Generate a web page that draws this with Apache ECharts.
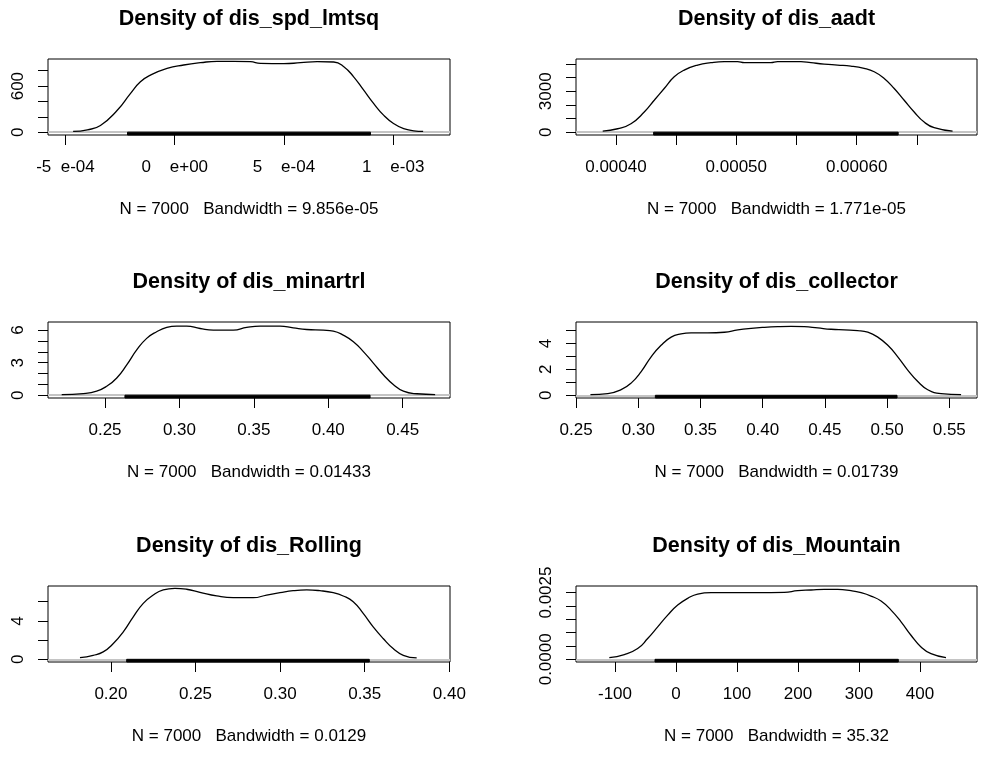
<!DOCTYPE html>
<html>
<head>
<meta charset="utf-8">
<script src="https://cdn.jsdelivr.net/npm/echarts@6/dist/echarts.min.js"></script>
<style>
  html, body { margin: 0; padding: 0; background: #fff; }
  #chart { width: 982px; height: 761px; }
</style>
</head>
<body>
<div id="chart"></div>
<script>
// ---- Kernel density estimates (x grid, density) ----
const spdX = [-4.65e-4, -4.0e-4, -3.40e-4, -2.63e-4, -2.03e-4, -1.57e-4, -1.11e-4, -0.35e-4, 0.41e-4, 1.18e-4, 1.94e-4, 2.70e-4, 3.47e-4, 3.92e-4, 5.0e-4, 5.76e-4, 6.52e-4, 7.28e-4, 7.74e-4, 8.19e-4, 8.65e-4, 9.11e-4, 9.57e-4, 10.03e-4, 10.48e-4, 10.94e-4, 11.37e-4];
const spdY = [10, 31, 88, 285, 503, 656, 744, 831, 875, 905, 923, 923, 918, 897, 892, 905, 918, 914, 853, 721, 547, 372, 219, 110, 45, 18, 10];

const aadtX = [0.000389, 0.0004014, 0.0004125, 0.0004235, 0.0004318, 0.0004401, 0.0004484, 0.0004567, 0.0004679, 0.0004789, 0.0004900, 0.0005011, 0.0005066, 0.0005287, 0.0005343, 0.0005537, 0.0005620, 0.0005730, 0.0005841, 0.0005952, 0.0006062, 0.0006146, 0.0006229, 0.0006312, 0.0006395, 0.0006478, 0.0006561, 0.0006644, 0.0006797];
const aadtY = [74, 251, 620, 1476, 2339, 3203, 4059, 4554, 4923, 5092, 5166, 5166, 5092, 5092, 5166, 5166, 5092, 4996, 4923, 4849, 4679, 4428, 3941, 3203, 2339, 1476, 738, 325, 74];

const minartrlX = [0.2209, 0.2354, 0.2444, 0.2511, 0.2579, 0.2646, 0.2713, 0.2780, 0.2847, 0.2915, 0.2982, 0.3049, 0.3139, 0.3228, 0.3362, 0.3452, 0.3542, 0.3676, 0.3765, 0.3855, 0.3967, 0.4034, 0.4101, 0.4169, 0.4236, 0.4303, 0.4370, 0.4437, 0.4505, 0.4595, 0.4718];
const minartrlY = [0.06, 0.15, 0.37, 0.82, 1.59, 2.80, 4.17, 5.24, 5.85, 6.25, 6.37, 6.37, 6.15, 6.0, 6.0, 6.25, 6.37, 6.37, 6.21, 6.06, 6.0, 5.91, 5.54, 4.93, 4.02, 2.96, 1.89, 0.98, 0.37, 0.13, 0.06];

const collectorX = [0.2615, 0.2755, 0.2862, 0.2942, 0.3023, 0.3103, 0.3183, 0.3264, 0.3344, 0.3424, 0.3558, 0.3692, 0.3800, 0.3907, 0.4014, 0.4121, 0.4228, 0.4335, 0.4443, 0.4550, 0.4657, 0.4764, 0.4845, 0.4925, 0.5006, 0.5086, 0.5166, 0.5247, 0.5327, 0.5434, 0.5595];
const collectorY = [0.05, 0.13, 0.43, 0.94, 1.83, 2.97, 3.86, 4.49, 4.74, 4.82, 4.82, 4.87, 5.05, 5.17, 5.25, 5.30, 5.32, 5.30, 5.20, 5.10, 5.05, 5.0, 4.87, 4.49, 3.86, 2.97, 1.95, 1.06, 0.43, 0.13, 0.05];

const rollingX = [0.1817, 0.1895, 0.1954, 0.2014, 0.2073, 0.2132, 0.2191, 0.2250, 0.2309, 0.2378, 0.2447, 0.2526, 0.2625, 0.2723, 0.2841, 0.2920, 0.2999, 0.3077, 0.3157, 0.3235, 0.3314, 0.3373, 0.3432, 0.3491, 0.3550, 0.3609, 0.3668, 0.3728, 0.3807];
const rollingY = [0.17, 0.42, 0.77, 1.64, 2.86, 4.43, 5.83, 6.70, 7.23, 7.40, 7.30, 6.98, 6.60, 6.42, 6.42, 6.70, 6.94, 7.15, 7.23, 7.15, 6.94, 6.60, 6.0, 4.78, 3.38, 2.17, 1.12, 0.42, 0.14];

const mountainX = [-109.3, -84.7, -62.8, -46.4, -30.0, -13.6, 2.8, 19.2, 35.6, 57.4, 79.2, 133.9, 177.5, 199.5, 221.3, 243.1, 265.1, 286.9, 303.3, 319.7, 336.1, 352.5, 368.9, 385.2, 401.6, 418.0, 442.6];
const mountainY = [0.000063, 0.000177, 0.000402, 0.000778, 0.001214, 0.001654, 0.002030, 0.002281, 0.002444, 0.002494, 0.002494, 0.002494, 0.002506, 0.002569, 0.002594, 0.002619, 0.002619, 0.002569, 0.002494, 0.002368, 0.002180, 0.001842, 0.001404, 0.000902, 0.000464, 0.000213, 0.000063];

// ---- Observed data range (rug) per variable ----
const spdRug = [-2.16e-4, 8.96e-4];
const aadtRug = [0.0004313, 0.0006345];
const minartrlRug = [0.2634, 0.4281];
const collectorRug = [0.3137, 0.508];
const rollingRug = [0.2093, 0.3527];
const mountainRug = [-34.4, 364.4];

// ---- Titles and subtitles ----
const titles = ['Density of dis_spd_lmtsq', 'Density of dis_aadt', 'Density of dis_minartrl',
                'Density of dis_collector', 'Density of dis_Rolling', 'Density of dis_Mountain'];
const subtitles = ['N = 7000   Bandwidth = 9.856e-05', 'N = 7000   Bandwidth = 1.771e-05',
                   'N = 7000   Bandwidth = 0.01433', 'N = 7000   Bandwidth = 0.01739',
                   'N = 7000   Bandwidth = 0.0129', 'N = 7000   Bandwidth = 35.32'];

// ---- Axis limits, ticks and tick labels ----
const xLimits = [[-5.80e-4, 12.6e-4], [0.0003668, 0.0007], [0.2117, 0.4818],
                 [0.2499, 0.5723], [0.1628, 0.4004], [-163.9, 493.4]];
const yLimits = [[-36.7, 953], [-207, 5365], [-0.26, 6.75],
                 [-0.21, 5.66], [-0.28, 7.64], [-0.0001, 0.002744]];

const xTicks = [
  [-5e-4, 0, 5e-4, 1e-3],
  [0.0004, 0.00045, 0.0005, 0.00055, 0.0006, 0.00065],
  [0.25, 0.30, 0.35, 0.40, 0.45],
  [0.25, 0.30, 0.35, 0.40, 0.45, 0.50, 0.55],
  [0.20, 0.25, 0.30, 0.35, 0.40],
  [-100, 0, 100, 200, 300, 400]
];
const xLabelValues = [
  [-5e-4, 0, 5e-4, 1e-3],
  [0.0004, 0.0005, 0.0006],
  [0.25, 0.30, 0.35, 0.40, 0.45],
  [0.25, 0.30, 0.35, 0.40, 0.45, 0.50, 0.55],
  [0.20, 0.25, 0.30, 0.35, 0.40],
  [-100, 0, 100, 200, 300, 400]
];
const xLabelTexts = [
  ['-5  e-04', '0    e+00', '5    e-04', '1    e-03'],
  ['0.00040', '0.00050', '0.00060'],
  ['0.25', '0.30', '0.35', '0.40', '0.45'],
  ['0.25', '0.30', '0.35', '0.40', '0.45', '0.50', '0.55'],
  ['0.20', '0.25', '0.30', '0.35', '0.40'],
  ['-100', '0', '100', '200', '300', '400']
];
const yTicks = [
  [0, 200, 400, 600, 800],
  [0, 1000, 2000, 3000, 4000, 5000],
  [0, 1, 2, 3, 4, 5, 6],
  [0, 1, 2, 3, 4, 5],
  [0, 2, 4, 6],
  [0, 0.0005, 0.001, 0.0015, 0.002, 0.0025]
];
const yLabelValues = [[0, 600], [0, 3000], [0, 3, 6], [0, 2, 4], [0, 4], [0, 0.0025]];
const yLabelTexts = [['0', '600'], ['0', '3000'], ['0', '3', '6'], ['0', '2', '4'], ['0', '4'], ['0.0000', '0.0025']];

const curvesX = [spdX, aadtX, minartrlX, collectorX, rollingX, mountainX];
const curvesY = [spdY, aadtY, minartrlY, collectorY, rollingY, mountainY];
const rugs = [spdRug, aadtRug, minartrlRug, collectorRug, rollingRug, mountainRug];

// ---- Plot-region layout (2 columns x 3 rows) ----
const boxes = [
  { left: 48,  top: 59,  width: 402, height: 76 },
  { left: 576, top: 59,  width: 401, height: 76 },
  { left: 48,  top: 322, width: 402, height: 76 },
  { left: 576, top: 322, width: 401, height: 76 },
  { left: 48,  top: 586, width: 402, height: 76 },
  { left: 576, top: 586, width: 401, height: 76 }
];

const FONT = 'Liberation Sans';

function labeler(values, texts) {
  return function (v) {
    let k = 0, best = Infinity;
    values.forEach(function (t, j) {
      const d = Math.abs(t - v);
      if (d < best) { best = d; k = j; }
    });
    return texts[k];
  };
}

const option = {
  animation: false,
  backgroundColor: '#ffffff',
  title: [], grid: [], xAxis: [], yAxis: [], series: []
};

boxes.forEach(function (b, i) {
  const cx = b.left + b.width / 2;
  option.title.push({
    text: titles[i], left: cx, top: b.top - 51, textAlign: 'center', padding: 0,
    textStyle: { fontFamily: FONT, fontSize: 21.5, fontWeight: 'bold', color: '#000' }
  });
  option.title.push({
    text: subtitles[i], left: cx, top: b.top + b.height + 66, textAlign: 'center', padding: 0,
    textStyle: { fontFamily: FONT, fontSize: 17, fontWeight: 'normal', color: '#000' }
  });
  option.grid.push({
    left: b.left, top: b.top, width: b.width, height: b.height,
    show: true, borderColor: '#000', borderWidth: 1, backgroundColor: 'transparent'
  });
  option.xAxis.push({
    type: 'value', gridIndex: i, min: xLimits[i][0], max: xLimits[i][1], position: 'bottom',
    axisLine: { show: false, onZero: false }, splitLine: { show: false },
    axisTick: { show: true, length: 10, customValues: xTicks[i], lineStyle: { color: '#000', width: 1 } },
    axisLabel: {
      show: true, customValues: xLabelValues[i], margin: 24,
      formatter: labeler(xLabelValues[i], xLabelTexts[i]),
      fontFamily: FONT, fontSize: 17, color: '#000'
    }
  });
  option.yAxis.push({
    type: 'value', gridIndex: i, min: yLimits[i][0], max: yLimits[i][1], position: 'left',
    axisLine: { show: false, onZero: false }, splitLine: { show: false },
    axisTick: { show: true, length: 10, customValues: yTicks[i], lineStyle: { color: '#000', width: 1 } },
    axisLabel: {
      show: true, customValues: yLabelValues[i], rotate: 90, margin: 21,
      formatter: labeler(yLabelValues[i], yLabelTexts[i]),
      fontFamily: FONT, fontSize: 17, color: '#000'
    }
  });
  const pts = curvesX[i].map(function (x, j) { return [x, curvesY[i][j]]; });
  // density curve
  option.series.push({
    type: 'line', xAxisIndex: i, yAxisIndex: i, data: pts,
    smooth: true, showSymbol: false, symbol: 'none',
    lineStyle: { color: '#000', width: 1.3 }, z: 3, silent: true
  });
  // grey zero reference line
  option.series.push({
    type: 'line', xAxisIndex: i, yAxisIndex: i, data: [], z: 2, silent: true,
    markLine: {
      silent: true, symbol: 'none', label: { show: false }, z: 2,
      lineStyle: { color: '#c4c4c4', width: 2, type: 'solid' },
      data: [{ yAxis: 0 }]
    }
  });
  // rug of observed values along the baseline
  option.series.push({
    type: 'line', xAxisIndex: i, yAxisIndex: i, data: [], z: 6, silent: true,
    markArea: {
      silent: true, label: { show: false }, z: 6,
      itemStyle: { color: '#000', opacity: 1, borderColor: '#000', borderWidth: 1 },
      data: [[{ coord: [rugs[i][0], yLimits[i][0]] }, { coord: [rugs[i][1], 0] }]]
    }
  });
});

const chart = echarts.init(document.getElementById('chart'), null, { renderer: 'canvas' });
chart.setOption(option);
</script>
</body>
</html>
